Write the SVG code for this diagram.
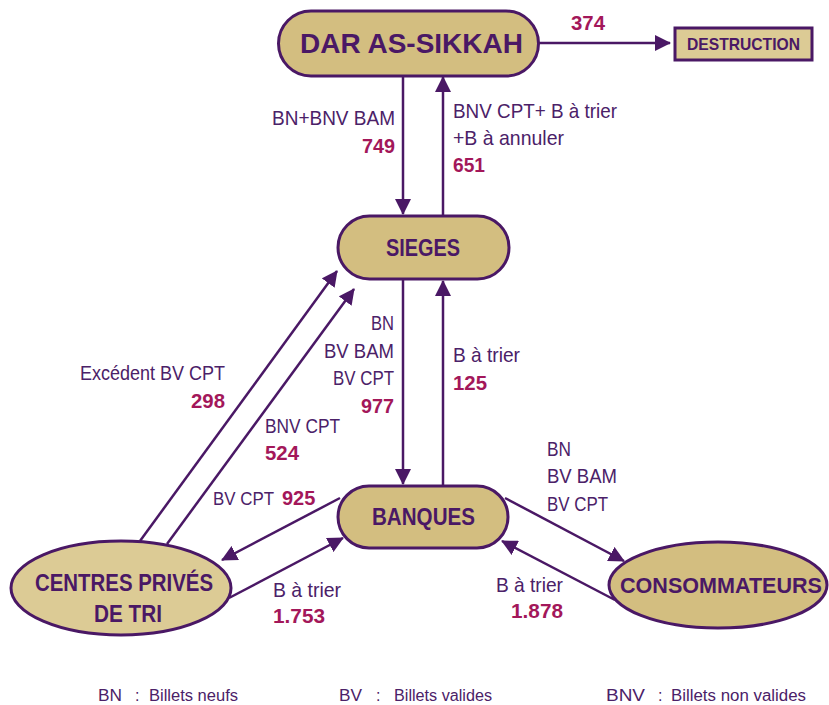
<svg xmlns="http://www.w3.org/2000/svg" width="829" height="705" viewBox="0 0 829 705">
<style>
.box{fill:#d3be80;stroke:#4a1865;stroke-width:3}
.lt{fill:#dccb95;stroke:#4a1865;stroke-width:3}
.nt{font-family:"Liberation Sans",Arial,sans-serif;font-weight:bold;fill:#4a1865}
.lb{font-family:"Liberation Sans",Arial,sans-serif;font-size:21px;fill:#4b2168}
.nm{font-family:"Liberation Sans",Arial,sans-serif;font-size:21px;font-weight:bold;fill:#a3175a}
.lg{font-family:"Liberation Sans",Arial,sans-serif;font-size:16px;fill:#4b2168}
.c line{stroke:#4a1865;stroke-width:2.5;marker-end:url(#ah)}
</style>
<defs>
<marker id="ah" markerUnits="userSpaceOnUse" markerWidth="16" markerHeight="16" refX="15" refY="8" orient="auto">
<path d="M0,0 L16,8 L0,16 z" fill="#4a1865"/>
</marker>
</defs>
<g class="c" id="connectors">
<line x1="539" y1="43" x2="670" y2="43"/>
<line x1="403" y1="76" x2="403" y2="214"/>
<line x1="443" y1="215" x2="443" y2="77"/>
<line x1="403" y1="280" x2="403" y2="484"/>
<line x1="443" y1="485" x2="443" y2="281"/>
<line x1="140" y1="541" x2="337" y2="271"/>
<line x1="167" y1="544" x2="354" y2="289"/>
<line x1="340" y1="498" x2="222" y2="560"/>
<line x1="229" y1="598" x2="343" y2="538"/>
<line x1="505" y1="498" x2="624" y2="561"/>
<line x1="615" y1="600" x2="502" y2="541"/>
</g>
<g id="dar">
<rect class="box" x="278.5" y="11" width="260" height="65" rx="32.5"/>
<text class="nt" x="300" y="53" font-size="28" textLength="223" lengthAdjust="spacingAndGlyphs">DAR AS-SIKKAH</text>
</g>
<g id="destruction">
<rect class="lt" x="675" y="28" width="137" height="32"/>
<text class="nt" x="687" y="50" font-size="17" textLength="113" lengthAdjust="spacingAndGlyphs">DESTRUCTION</text>
</g>
<g id="sieges">
<rect class="box" x="338" y="216" width="171" height="63" rx="31.5"/>
<text class="nt" x="386" y="256" font-size="24" textLength="74" lengthAdjust="spacingAndGlyphs">SIEGES</text>
</g>
<g id="banques">
<rect class="box" x="338" y="486" width="170" height="62" rx="31"/>
<text class="nt" x="372" y="525" font-size="23" textLength="103" lengthAdjust="spacingAndGlyphs">BANQUES</text>
</g>
<g id="centres">
<ellipse class="lt" cx="121" cy="588" rx="110" ry="47"/>
<text class="nt" x="35" y="591" font-size="23" textLength="178" lengthAdjust="spacingAndGlyphs">CENTRES PRIVÉS</text>
<text class="nt" x="94" y="622" font-size="23" textLength="68" lengthAdjust="spacingAndGlyphs">DE TRI</text>
</g>
<g id="consommateurs">
<ellipse class="box" cx="718" cy="585" rx="109" ry="43"/>
<text class="nt" x="620" y="593" font-size="22" textLength="202" lengthAdjust="spacingAndGlyphs">CONSOMMATEURS</text>
</g>
<g id="labels">
<text class="nm" x="571" y="30" textLength="34" lengthAdjust="spacingAndGlyphs">374</text>
<text class="lb" x="272" y="125" textLength="123" lengthAdjust="spacingAndGlyphs">BN+BNV BAM</text>
<text class="nm" x="362" y="153" textLength="33" lengthAdjust="spacingAndGlyphs">749</text>
<text class="lb" x="453" y="118" textLength="164" lengthAdjust="spacingAndGlyphs">BNV CPT+ B à trier</text>
<text class="lb" x="453" y="145" textLength="111" lengthAdjust="spacingAndGlyphs">+B à annuler</text>
<text class="nm" x="453" y="172" textLength="32" lengthAdjust="spacingAndGlyphs">651</text>
<text class="lb" x="371" y="330" textLength="23" lengthAdjust="spacingAndGlyphs">BN</text>
<text class="lb" x="324" y="358" textLength="70" lengthAdjust="spacingAndGlyphs">BV BAM</text>
<text class="lb" x="333" y="385" textLength="61" lengthAdjust="spacingAndGlyphs">BV CPT</text>
<text class="nm" x="361" y="413" textLength="33" lengthAdjust="spacingAndGlyphs">977</text>
<text class="lb" x="453" y="362" textLength="67" lengthAdjust="spacingAndGlyphs">B à trier</text>
<text class="nm" x="453" y="390" textLength="34" lengthAdjust="spacingAndGlyphs">125</text>
<text class="lb" x="80" y="380" textLength="145" lengthAdjust="spacingAndGlyphs">Excédent BV CPT</text>
<text class="nm" x="191" y="408" textLength="34" lengthAdjust="spacingAndGlyphs">298</text>
<text class="lb" x="265" y="433" textLength="75" lengthAdjust="spacingAndGlyphs">BNV CPT</text>
<text class="nm" x="265" y="460" textLength="34" lengthAdjust="spacingAndGlyphs">524</text>
<text class="lb" x="213" y="505" style="font-size:19px" textLength="61" lengthAdjust="spacingAndGlyphs">BV CPT</text>
<text class="nm" x="282" y="505" style="font-size:20px">925</text>
<text class="lb" x="273" y="597" textLength="68" lengthAdjust="spacingAndGlyphs">B à trier</text>
<text class="nm" x="273" y="623" textLength="52" lengthAdjust="spacingAndGlyphs">1.753</text>
<text class="lb" x="547" y="456" textLength="24" lengthAdjust="spacingAndGlyphs">BN</text>
<text class="lb" x="547" y="483" textLength="70" lengthAdjust="spacingAndGlyphs">BV BAM</text>
<text class="lb" x="547" y="511" textLength="61" lengthAdjust="spacingAndGlyphs">BV CPT</text>
<text class="lb" x="496" y="592" textLength="67" lengthAdjust="spacingAndGlyphs">B à trier</text>
<text class="nm" x="511" y="618" textLength="52" lengthAdjust="spacingAndGlyphs">1.878</text>
</g>
<g id="legend">
<text class="lg" x="98" y="701" textLength="24" lengthAdjust="spacingAndGlyphs">BN</text>
<text class="lg" x="135" y="701">:</text>
<text class="lg" x="149" y="701" textLength="89" lengthAdjust="spacingAndGlyphs">Billets neufs</text>
<text class="lg" x="339" y="701" textLength="23" lengthAdjust="spacingAndGlyphs">BV</text>
<text class="lg" x="376" y="701">:</text>
<text class="lg" x="394" y="701" textLength="98" lengthAdjust="spacingAndGlyphs">Billets valides</text>
<text class="lg" x="606" y="701" textLength="39" lengthAdjust="spacingAndGlyphs">BNV</text>
<text class="lg" x="658" y="701">:</text>
<text class="lg" x="671" y="701" textLength="135" lengthAdjust="spacingAndGlyphs">Billets non valides</text>
</g>
</svg>
